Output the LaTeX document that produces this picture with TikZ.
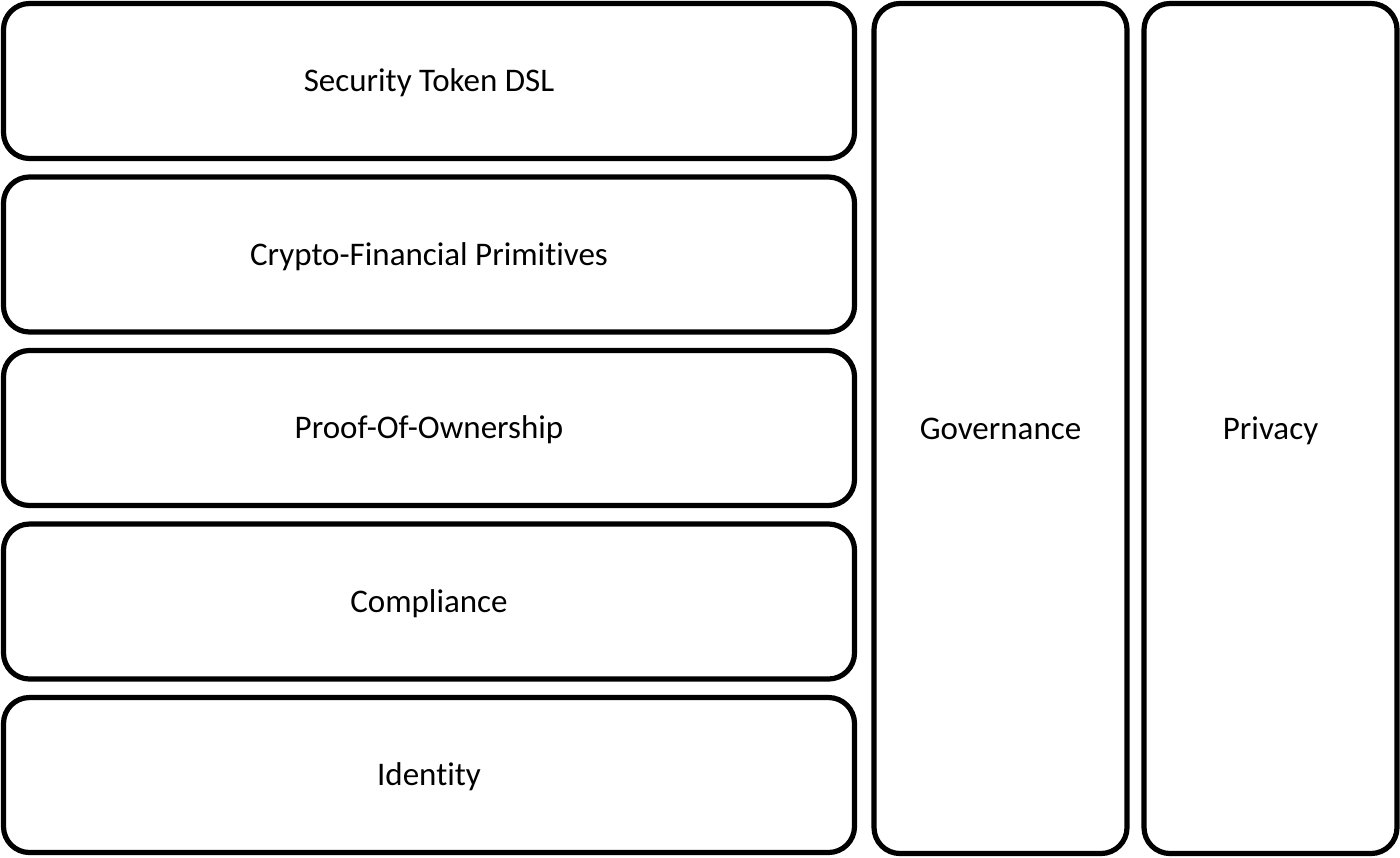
\documentclass[tikz,border=0pt]{standalone}
\usepackage{fontspec}
\setmainfont[Ligatures=NoCommon]{Carlito}
\usetikzlibrary{positioning}

\begin{document}
\begin{tikzpicture}[%
    x=0.5pt,
    y=-0.5pt,
    layer/.style={draw, line width=2.6pt, rounded corners=13pt, fill=white,
                  minimum width=425.5pt, minimum height=77.5pt,
                  text height=10.6pt, text depth=0pt,
                  font={\fontsize{16.5pt}{20pt}\selectfont}},
    pillar/.style={layer, minimum width=126.5pt, minimum height=425pt}
    ]

    \useasboundingbox (0,0) rectangle (1400,857);

    % stacked layers on the left
    \node[layer] (dsl) at (429,81) {Security Token DSL};
    \node[layer] (prim) at (429,254.5) {Crypto-Financial Primitives};
    \node[layer] (poo) at (429,428) {Proof-Of-Ownership};
    \node[layer] (comp) at (429,601.5) {Compliance};
    \node[layer] (ident) at (429,775) {Identity};

    % vertical pillars on the right
    \node[pillar] (gov) at (1000.5,428.5) {Governance};
    \node[pillar] (priv) at (1270.5,428.5) {Privacy};
\end{tikzpicture}
\end{document}
